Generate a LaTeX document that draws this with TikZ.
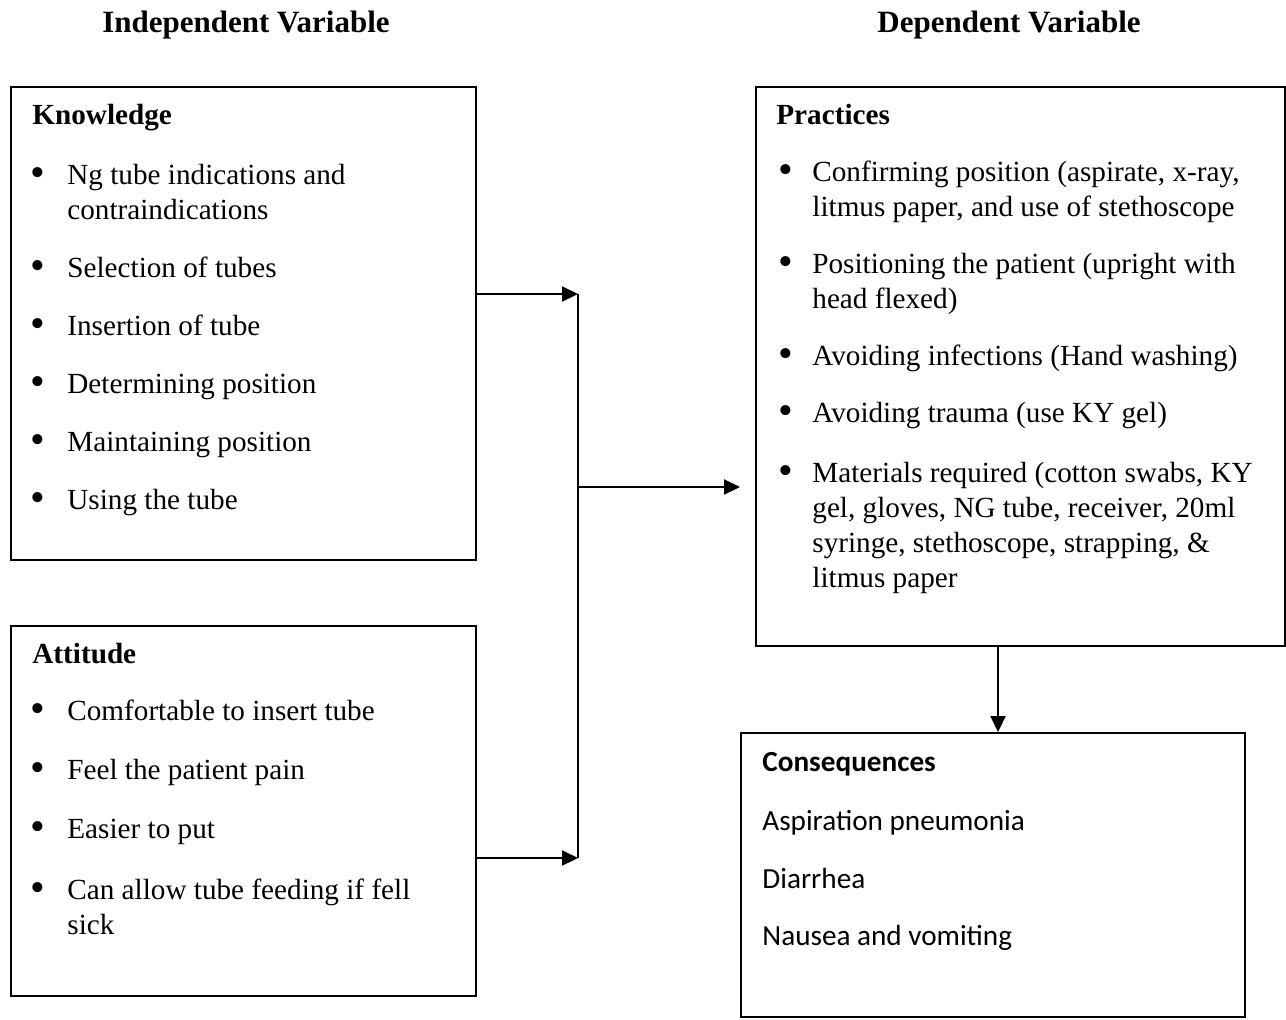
\documentclass[tikz,border=0pt]{standalone}
\usepackage{fontspec}
\setmainfont{Liberation Serif}
\newfontfamily\calibri{Carlito}
\usetikzlibrary{arrows.meta}
\newcommand{\bul}{\raisebox{-1.2pt}{\fontsize{21}{21}\selectfont\textbullet}}
\tikzset{
  box/.style={draw, line width=0.8pt, anchor=north west, inner sep=0pt},
  txt/.style={anchor=base west, inner sep=0pt, font=\fontsize{14.6}{17.5}\selectfont},
  head/.style={anchor=base, inner sep=0pt, font=\fontsize{15.5}{18}\selectfont\bfseries},
  flow/.style={line width=1.1pt, -{Triangle[length=8pt,width=7.5pt]}},
}
\begin{document}
\begin{tikzpicture}[x=0.5pt, y=-0.5pt]
        \useasboundingbox (0,0) rectangle (1286,1019);
        % headings
        \node[head] (hind) at (246,32) {Independent Variable};
        \node[head] (hdep) at (1009,32) {Dependent Variable};
        % boxes
        \node[box, minimum width=232.5pt, minimum height=236.5pt] (know) at (10,86) {};
        \node[box, minimum width=232.5pt, minimum height=185pt] (att) at (10,625) {};
        \node[box, minimum width=264.5pt, minimum height=279.5pt] (prac) at (755,86) {};
        \node[box, minimum width=252pt, minimum height=142pt] (cons) at (740,732) {};
        % knowledge
        \node[txt, font=\fontsize{14.6}{17.5}\selectfont\bfseries] (ktitle) at (32,124) {Knowledge};
        \node[txt] (klist) at (30,184) {\begin{tabular}[t]{@{}p{18.5pt}@{}l@{}}
          \bul & Ng tube indications and\\
               & contraindications\\[11.5pt]
          \bul & Selection of tubes\\[11.5pt]
          \bul & Insertion of tube\\[11.5pt]
          \bul & Determining position\\[11.5pt]
          \bul & Maintaining position\\[11.5pt]
          \bul & Using the tube
        \end{tabular}};
        % attitude
        \node[txt, font=\fontsize{14.6}{17.5}\selectfont\bfseries] (atitle) at (32,663) {Attitude};
        \node[txt] (alist) at (30,720) {\begin{tabular}[t]{@{}p{18.5pt}@{}l@{}}
          \bul & Comfortable to insert tube\\[12pt]
          \bul & Feel the patient pain\\[12pt]
          \bul & Easier to put\\[13pt]
          \bul & Can allow tube feeding if fell\\
               & sick
        \end{tabular}};
        % practices
        \node[txt, font=\fontsize{14.6}{17.5}\selectfont\bfseries] (ptitle) at (776,124) {Practices};
        \node[txt] (plist) at (778,181) {\begin{tabular}[t]{@{}p{17pt}@{}l@{}}
          \bul & Confirming position (aspirate, x-ray,\\
               & litmus paper, and use of stethoscope\\[11pt]
          \bul & Positioning the patient (upright with\\
               & head flexed)\\[11pt]
          \bul & Avoiding infections (Hand washing)\\[11pt]
          \bul & Avoiding trauma (use KY gel)\\[12.5pt]
          \bul & Materials required (cotton swabs, KY\\
               & gel, gloves, NG tube, receiver, 20ml\\
               & syringe, stethoscope, strapping, \&\\
               & litmus paper
        \end{tabular}};
        % consequences
        \node[txt, font=\fontsize{14.6}{17.5}\calibri\bfseries] (ctitle) at (762,771) {Consequences};
        \node[txt, font=\fontsize{14.6}{17.5}\calibri] (clist) at (762,830) {\begin{tabular}[t]{@{}l@{}}
          Aspiration pneumonia\\[11.5pt]
          Diarrhea\\[11pt]
          Nausea and vomiting
        \end{tabular}};
        % connectors
        \coordinate (jtop) at (578,294);
        \coordinate (jmid) at (578,487);
        \coordinate (jbot) at (578,858);
        \coordinate (jdown) at (998,0);
        \draw[flow] (know.east |- jtop) -- (jtop);
        \draw[flow] (att.east |- jbot) -- (jbot);
        \draw[line width=1.1pt] (jtop) -- (jbot);
        \draw[flow, shorten >=7.5pt] (jmid) -- (prac.west |- jmid);
        \draw[flow] (prac.south -| jdown) -- (cons.north -| jdown);
\end{tikzpicture}
\end{document}
